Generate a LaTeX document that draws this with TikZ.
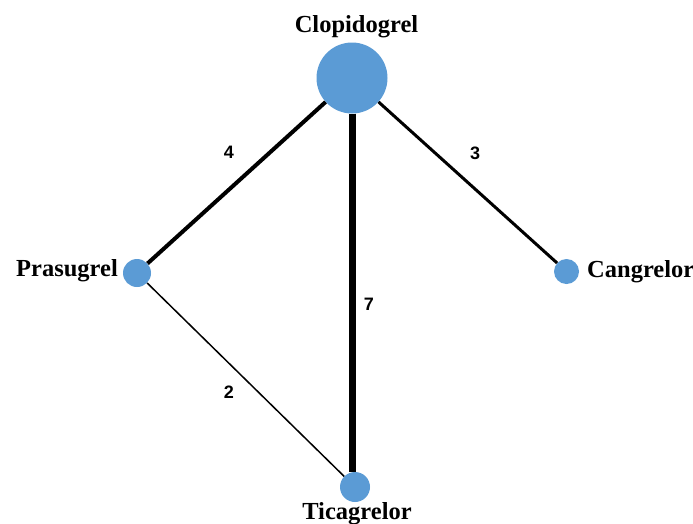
\documentclass[tikz,border=0pt]{standalone}
\usepackage{fontspec}
\setmainfont{Liberation Serif}
\newfontfamily\numfont{Liberation Sans}
\definecolor{nodeblue}{RGB}{91,155,213}
\tikzset{
  drug/.style={circle, fill=nodeblue, draw=none, inner sep=0pt},
  druglabel/.style={font=\fontsize{24.5}{28}\selectfont\bfseries, inner sep=0pt},
  edgenum/.style={font=\numfont\fontsize{18}{20}\selectfont\bfseries, inner sep=0pt},
  edgeline/.style={draw=black}
}
\begin{document}
\begin{tikzpicture}[x=1pt,y=-1pt]
\useasboundingbox (0,0) rectangle (693,523);
\node[drug, minimum size=71pt] (c) at (352,78) {};
\node[drug, minimum size=28pt] (p) at (137,273) {};
\node[drug, minimum size=25pt] (g) at (566.5,271.5) {};
\node[drug, minimum size=30pt] (t) at (355,487) {};
\draw[edgeline, line width=7pt] (c.south) -- (t.north -| c.south);
\draw[edgeline, line width=4pt] (c) -- (p);
\draw[edgeline, line width=3pt] (c) -- (g);
\draw[edgeline, line width=1.5pt] (p) -- (t);
\node[druglabel, anchor=base] (lc) at (356.5,32) {Clopidogrel};
\node[druglabel, anchor=base east] (lp) at (118,276) {Prasugrel};
\node[druglabel, anchor=base west] (lg) at (587,277) {Cangrelor};
\node[druglabel, anchor=base] (lt) at (357,519) {Ticagrelor};
\node[edgenum, anchor=base] (n4) at (229,158) {4};
\node[edgenum, anchor=base] (n3) at (475,159) {3};
\node[edgenum, anchor=base] (n7) at (369,310) {7};
\node[edgenum, anchor=base] (n2) at (229,398) {2};
\end{tikzpicture}
\end{document}
